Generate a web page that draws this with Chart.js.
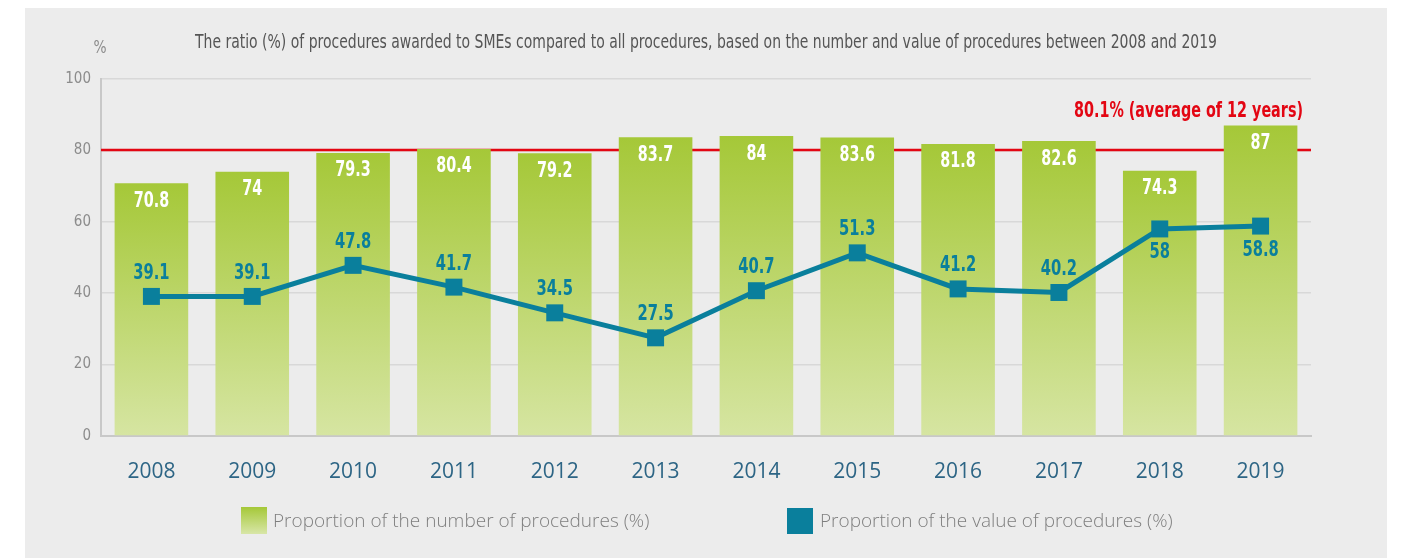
<!DOCTYPE html>
<html>
<head>
<meta charset="utf-8">
<script src="https://cdn.jsdelivr.net/npm/chart.js@4/dist/chart.umd.min.js"></script>
<style>
  body { margin: 0; background: #ffffff; }
  #wrap { width: 1401px; height: 558px; position: relative; }
</style>
</head>
<body>
<div id="wrap"><canvas id="smeChart"></canvas></div>
<script>
const years = ['2008', '2009', '2010', '2011', '2012', '2013', '2014', '2015', '2016', '2017', '2018', '2019'];
const numberShare = [70.8, 74, 79.3, 80.4, 79.2, 83.7, 84, 83.6, 81.8, 82.6, 74.3, 87];
const valueShare = [39.1, 39.1, 47.8, 41.7, 34.5, 27.5, 40.7, 51.3, 41.2, 40.2, 58, 58.8];
const yTicks = [0, 20, 40, 60, 80, 100];
const average = 80.1;

const titleText = 'The ratio (%) of procedures awarded to SMEs compared to all procedures, based on the number and value of procedures between 2008 and 2019';
const averageText = '80.1% (average of 12 years)';
const legendNames = ['Proportion of the number of procedures (%)', 'Proportion of the value of procedures (%)'];

const narrow = "'Liberation Sans Narrow', 'DejaVu Sans Condensed', sans-serif";
const teal = '#0a7f9c';
const red = '#e30613';

function barGradient(context) {
   const chart = context.chart;
   const area = chart.chartArea;
   if (!area || !chart.scales.y) return '#b9d264';
   const top = chart.scales.y.getPixelForValue(numberShare[context.dataIndex]);
   const g = chart.ctx.createLinearGradient(0, top, 0, area.bottom);
   g.addColorStop(0, '#a5c838');
   g.addColorStop(1, '#d6e5a2');
   return g;
}

// the original uses a condensed face, so squeeze the text sideways
function squeezed(ctx, text, x, y, sx, align) {
   ctx.save();
   ctx.translate(x, y);
   ctx.scale(sx, 1);
   ctx.textAlign = align || 'center';
   ctx.fillText(text, 0, 0);
   ctx.restore();
}

// grey panel, red average line, labels, title and legend
const decor = {
   id: 'decor',
   beforeDraw(chart) {
      const ctx = chart.ctx;
      ctx.save();
      ctx.fillStyle = '#ececec';
      ctx.fillRect(25, 8, 1362, 550);
      ctx.restore();
   },
   beforeDatasetsDraw(chart) {
      const ctx = chart.ctx;
      const area = chart.chartArea;
      const y = chart.scales.y.getPixelForValue(average);
      ctx.save();
      ctx.strokeStyle = red;
      ctx.lineWidth = 2.5;
      ctx.beginPath();
      ctx.moveTo(area.left, y);
      ctx.lineTo(area.right, y);
      ctx.stroke();
      ctx.fillStyle = red;
      ctx.font = 'bold 21px ' + narrow;
      ctx.textBaseline = 'middle';
      squeezed(ctx, averageText, area.right - 8, y - 38, 0.76, 'right');
      ctx.restore();
   },
   afterDatasetsDraw(chart) {
      const ctx = chart.ctx;
      ctx.save();
      ctx.textBaseline = 'middle';
      ctx.font = 'bold 21px ' + narrow;

      const bars = chart.getDatasetMeta(1).data;
      ctx.fillStyle = '#ffffff';
      bars.forEach((bar, i) => {
         squeezed(ctx, String(numberShare[i]), bar.x, bar.y + 18, 0.76);
      });

      const below = [10, 11];
      const points = chart.getDatasetMeta(0).data;
      ctx.fillStyle = teal;
      points.forEach((pt, i) => {
         const dy = below.includes(i) ? 24 : -23;
         squeezed(ctx, String(valueShare[i]), pt.x, pt.y + dy, 0.78);
      });
      ctx.restore();
   },
   afterDraw(chart) {
      const ctx = chart.ctx;
      ctx.save();
      ctx.textBaseline = 'middle';
      ctx.fillStyle = '#555555';
      ctx.font = '19px ' + narrow;
      const w = ctx.measureText(titleText).width;
      squeezed(ctx, titleText, 706, 43, 1022 / w);
      ctx.fillStyle = '#8c8c8c';
      ctx.font = '18px ' + narrow;
      squeezed(ctx, '%', 100, 48, 0.85);

      // legend
      const g = ctx.createLinearGradient(0, 507, 0, 534);
      g.addColorStop(0, '#a5c838');
      g.addColorStop(1, '#d8e6a8');
      ctx.fillStyle = g;
      ctx.fillRect(241, 507, 26, 27);
      ctx.fillStyle = teal;
      ctx.fillRect(787, 508, 26, 26);
      ctx.fillStyle = '#7f7f7f';
      ctx.textAlign = 'left';
      ctx.font = '300 19px "Open Sans", sans-serif';
      ctx.fillText(legendNames[0], 273, 522);
      ctx.fillText(legendNames[1], 820, 522);
      ctx.restore();
   }
};

new Chart(document.getElementById('smeChart'), {
   data: {
      labels: years,
      datasets: [
         {
            type: 'line',
            label: legendNames[1],
            data: valueShare,
            borderColor: teal,
            backgroundColor: teal,
            borderWidth: 5,
            pointStyle: 'rect',
            pointRadius: 12,
            pointBorderWidth: 0,
            tension: 0,
            order: 0
         },
         {
            type: 'bar',
            label: legendNames[0],
            data: numberShare,
            backgroundColor: barGradient,
            barPercentage: 0.73,
            categoryPercentage: 1,
            order: 1
         }
      ]
   },
   options: {
      responsive: true,
      maintainAspectRatio: false,
      animation: false,
      layout: {
         padding: { left: 30, right: 90, top: 79, bottom: 62 }
      },
      plugins: {
         legend: { display: false },
         tooltip: { enabled: false }
      },
      scales: {
         x: {
            grid: { display: false },
            border: { color: '#c8c8c8', width: 2 },
            ticks: {
               color: '#2d6585',
               padding: 15,
               font: { family: "'Open Sans', sans-serif", size: 21 }
            },
            afterFit(scale) { scale.height = 60; }
         },
         y: {
            min: 0,
            max: 100,
            afterBuildTicks(scale) {
               scale.ticks = yTicks.map(v => ({ value: v }));
            },
            grid: { color: '#d8d8d8', lineWidth: 1.5, drawTicks: false },
            border: { color: '#c8c8c8', width: 2 },
            ticks: {
               color: '#8c8c8c',
               padding: 10,
               font: { family: narrow, size: 15 }
            },
            afterFit(scale) { scale.width = 71; }
         }
      }
   },
   plugins: [decor]
});
</script>
</body>
</html>
